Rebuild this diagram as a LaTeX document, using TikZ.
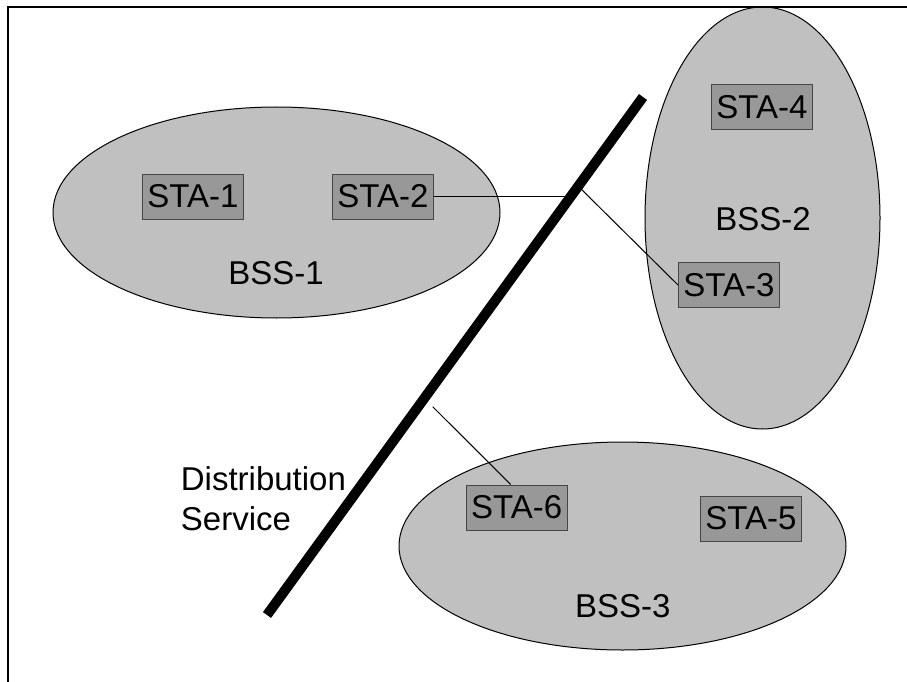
\documentclass[tikz,border=0pt]{standalone}
\usepackage{fontspec}
\setmainfont{Liberation Sans}
\usetikzlibrary{shapes.geometric}
\definecolor{bssfill}{RGB}{192,192,192}
\definecolor{stafill}{RGB}{152,152,152}
\definecolor{staline}{RGB}{70,70,70}
\begin{document}
\begin{tikzpicture}[x=1pt,y=-1pt,
  bss/.style={ellipse, draw=black, line width=1pt, fill=bssfill, inner sep=0pt},
  sta/.style={rectangle, draw=staline, line width=1pt, fill=stafill, minimum width=101pt, minimum height=45pt, inner sep=0pt, font=\fontsize{33}{40}\selectfont},
  lbl/.style={inner sep=0pt, font=\fontsize{33}{40}\selectfont},
  link/.style={draw=black, line width=1pt},
  dsline/.style={draw=black, line width=10pt},
  frame/.style={draw=black, line width=2pt}]
\useasboundingbox (0,0) rectangle (907,682);
\fill[white] (0,0) rectangle (907,682);
% BSS ellipses
\node[bss, minimum width=447pt, minimum height=211pt] (bss1) at (276.5,212.5) {};
\node[bss, minimum width=235pt, minimum height=422pt] (bss2) at (762.5,218) {};
\node[bss, minimum width=447pt, minimum height=208pt] (bss3) at (622.5,546) {};
% labels
\node[lbl] (l1) at (276,273.5) {BSS-1};
\node[lbl] (l2) at (763,219) {BSS-2};
\node[lbl] (l3) at (622.7,605.7) {BSS-3};
\node[lbl, align=left, anchor=north west] (dstext) at (180.7,466.7) {Distribution\\Service};
% stations
\node[sta] (sta1) at (193,196.5) {STA-1};
\node[sta] (sta2) at (383,196.5) {STA-2};
\node[sta] (sta3) at (729,285) {STA-3};
\node[sta] (sta4) at (762,107.5) {STA-4};
\node[sta] (sta5) at (751,518.5) {STA-5};
\node[sta] (sta6) at (516.7,507.5) {STA-6};
% connector points
\coordinate (j1) at (572,196.5);
\coordinate (j2) at (577,185);
\coordinate (j3) at (432.7,406.7);
\coordinate (dsA) at (643,97);
\coordinate (dsB) at (267,615);
% connectors
\draw[link] (sta2.east) -- (j1);
\draw[link] (j2) -- (sta3.west);
\draw[link] (j3) -- ([xshift=-6pt]sta6.north);
% distribution service line
\draw[dsline] (dsA) -- (dsB);
% frame
\draw[frame] (8,682) -- (8,7) -- (907,7);
\end{tikzpicture}
\end{document}
